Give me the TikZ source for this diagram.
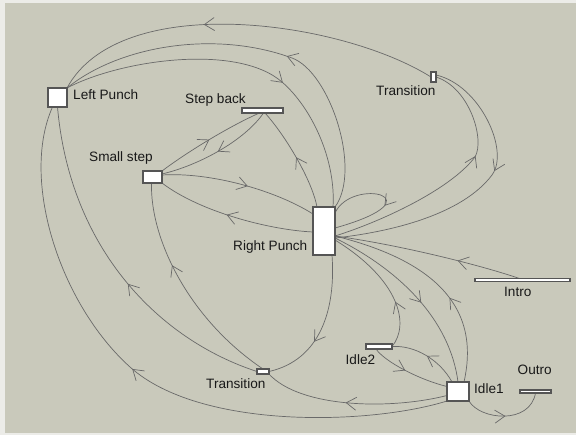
\documentclass[tikz,border=0pt]{standalone}
\usepackage{fontspec}
\setmainfont{Liberation Sans}
\usetikzlibrary{arrows.meta,decorations.markings}
\definecolor{canvas}{RGB}{201,201,187}
\definecolor{frame}{RGB}{236,236,232}
\definecolor{wire}{RGB}{105,105,105}
\definecolor{rim}{RGB}{85,85,85}
\pgfdeclarelayer{back}
\pgfdeclarelayer{wires}
\pgfsetlayers{back,wires,main}
\tikzset{
  state/.style={rectangle, draw=rim, fill=white, line width=1.3pt, inner sep=0pt, outer sep=0pt},
  caption/.style={inner sep=0pt, anchor=base west, font=\fontsize{13.6}{16}\selectfont, text=black!90},
  link/.style={draw=wire, line width=0.7pt},
  tipat/.style={postaction={decorate}, decoration={markings,
      mark=at position #1 with {\arrow{Straight Barb[length=10pt,width=13pt,line width=0.7pt]}}}},
}
\begin{document}
\begin{tikzpicture}[x=1pt, y=-1pt]
  \useasboundingbox (0,0) rectangle (576,435);
  \begin{pgfonlayer}{back}
    \fill[frame] (0,0) rectangle (576,435);
    \fill[canvas] (5,3) rectangle (576,433);
  \end{pgfonlayer}

  % states
  \node[state, minimum width=19pt, minimum height=19pt] (LP) at (57.5,97.5) {};
  \node[state, minimum width=41pt, minimum height=5pt]  (SB) at (262.5,110.5) {};
  \node[state, minimum width=19pt, minimum height=12pt] (SS) at (152.5,177) {};
  \node[state, minimum width=22pt, minimum height=48pt] (RP) at (324,231) {};
  \node[state, minimum width=5pt,  minimum height=10pt] (TT) at (433.5,77) {};
  \node[state, minimum width=95pt, minimum height=3pt]  (IN) at (522.5,280) {};
  \node[state, minimum width=26pt, minimum height=5pt]  (I2) at (379,346.5) {};
  \node[state, minimum width=22pt, minimum height=19pt] (I1) at (458,391.5) {};
  \node[state, minimum width=31pt, minimum height=3pt]  (OU) at (535.5,391.5) {};
  \node[state, minimum width=12pt, minimum height=5pt]  (TB) at (263,371.5) {};

  % captions
  \node[caption] (tLP) at (73,99.5)    {Left Punch};
  \node[caption] (tSB) at (185,103.5)  {Step back};
  \node[caption] (tSS) at (89,161.5)   {Small step};
  \node[caption] (tRP) at (233,251)    {Right Punch};
  \node[caption] (tTT) at (376,95.5)   {Transition};
  \node[caption] (tIN) at (504,296.5)  {Intro};
  \node[caption] (tI2) at (345.5,364.3) {Idle2};
  \node[caption] (tI1) at (474,394)    {Idle1};
  \node[caption] (tOU) at (517.5,375)  {Outro};
  \node[caption] (tTB) at (206,389)    {Transition};

  \begin{pgfonlayer}{wires}
    % upper arcs around Left Punch
    \draw[link, tipat=0.6] (TT.west) .. controls (340,20) and (120,-10) .. (LP.north east);
    \draw[link, tipat=0.43] (RP.north east) .. controls (362,170) and (330,72) .. (292,58)
                                             .. controls (216,30) and (120,45) .. (LP.north east);
    \draw[link, tipat=0.62] (LP.north east) .. controls (120,60) and (237,43) .. (282,82)
                                             .. controls (312,108) and (336,160) .. ([xshift=-2pt]RP.north east);
    % step back / small step
    \draw[link, tipat=0.5] ([xshift=4pt]RP.north west) .. controls (312,180) and (285,135) .. ([xshift=2.5pt]SB.south);
    \draw[link, tipat=0.5] (SS.north east) .. controls (190,150) and (232,125) .. ([xshift=-3pt]SB.south);
    \draw[link, tipat=0.5] ([xshift=1pt]SB.south) .. controls (245,140) and (200,165) .. ([yshift=3pt]SS.east);
    \draw[link, tipat=0.55] ([yshift=2pt]SS.east) .. controls (210,172) and (275,190) .. ([yshift=17pt]RP.west);
    \draw[link, tipat=0.55] ([yshift=-1pt]RP.west) .. controls (270,230) and (200,212) .. (SS.south east);
    % lower transition
    \draw[link, tipat=0.62] (TB.north) .. controls (190,320) and (150,240) .. ([xshift=-1pt]SS.south);
    \draw[link, tipat=0.45] (TB.west) .. controls (160,340) and (70,250) .. (LP.south);
    \draw[link, tipat=0.53] (I1.south west) .. controls (370,425) and (200,430) .. (130,367)
                                            .. controls (60,304) and (20,180) .. ([xshift=-5pt]LP.south);
    \draw[link, tipat=0.62] ([xshift=-3pt]RP.south east) .. controls (336,310) and (320,360) .. (TB.east);
    \draw[link, tipat=0.55] ([yshift=-4pt]I1.west) .. controls (390,410) and (300,408) .. (TB.south east);
    % right punch self loop
    \draw[link, tipat=0.55] ([yshift=18pt]RP.east) .. controls (352,176) and (442,198) .. ([yshift=3pt]RP.east);
    % upper transition
    \draw[link, tipat=0.63] ([yshift=-5pt]RP.east) .. controls (380,222) and (450,190) .. (475,157)
                                                   .. controls (485,140) and (470,88) .. (TT.east);
    \draw[link, tipat=0.41] ([yshift=2pt]TT.east) .. controls (480,85) and (510,151) .. (492,175)
                                                  .. controls (462,215) and (390,232) .. ([yshift=-7pt]RP.east);
    % intro, idles, outro
    \draw[link, tipat=0.34] ([xshift=-3pt]IN.north) .. controls (480,265) and (400,245) .. ([yshift=-5pt]RP.east);
    \draw[link, tipat=0.35] (I2.east) .. controls (410,325) and (400,280) .. ([yshift=-9pt]RP.east);
    \draw[link, tipat=0.55] ([yshift=-7pt]RP.east) .. controls (400,270) and (450,320) .. (I1.north);
    \draw[link, tipat=0.4] ([xshift=6pt]I1.north) .. controls (478,320) and (452,265) .. ([yshift=-5pt]RP.east);
    \draw[link, tipat=0.5] ([xshift=-6pt]I1.north) .. controls (440,360) and (415,345) .. (I2.east);
    \draw[link, tipat=0.45] ([xshift=-3pt]I2.south) .. controls (385,362) and (420,380) .. ([yshift=5pt]I1.west);
    \draw[link, tipat=0.5] (I1.south east) .. controls (480,420) and (530,425) .. (OU.south);
  \end{pgfonlayer}
\end{tikzpicture}
\end{document}
